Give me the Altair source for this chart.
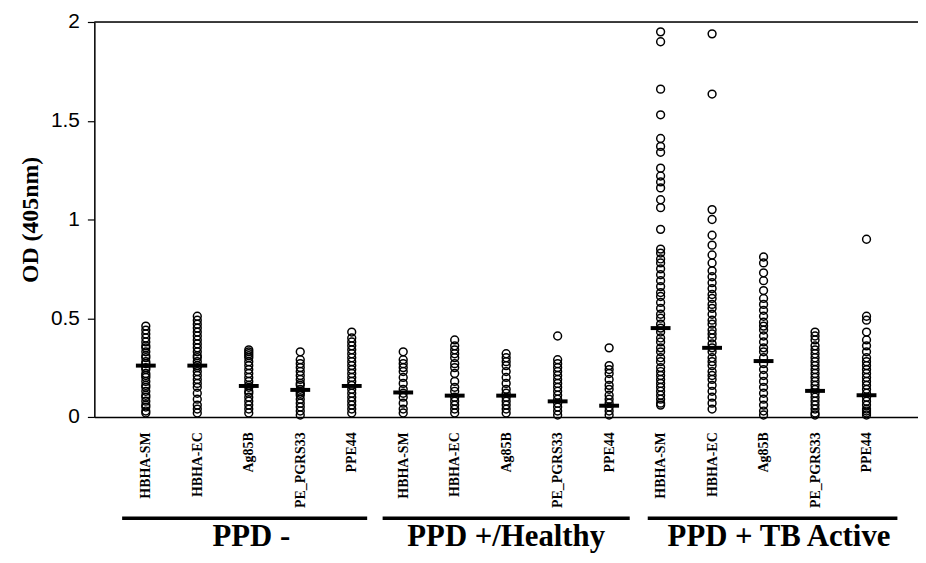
import altair as alt
import pandas as pd

antigens = ["HBHA-SM", "HBHA-EC", "Ag85B", "PE_PGRS33", "PPE44"]
groups = ["PPD -", "PPD +/Healthy", "PPD + TB Active"]

# PPD -
c1 = [0.02, 0.03, 0.05, 0.06, 0.08, 0.10, 0.11, 0.13, 0.15, 0.16, 0.18, 0.20, 0.21, 0.22,
      0.24, 0.25, 0.27, 0.28, 0.30, 0.31, 0.33, 0.35, 0.36, 0.38, 0.40, 0.42, 0.44, 0.46]
c2 = [0.02, 0.04, 0.06, 0.09, 0.12, 0.15, 0.17, 0.19, 0.21, 0.23, 0.25, 0.26, 0.28, 0.30,
      0.31, 0.33, 0.35, 0.37, 0.39, 0.41, 0.43, 0.45, 0.47, 0.49, 0.51]
c3 = [0.02, 0.04, 0.06, 0.08, 0.10, 0.12, 0.13, 0.15, 0.16, 0.18, 0.20, 0.22, 0.24, 0.26,
      0.28, 0.30, 0.31, 0.32, 0.33, 0.34]
c4 = [0.01, 0.03, 0.05, 0.07, 0.09, 0.11, 0.12, 0.13, 0.14, 0.16, 0.17, 0.19, 0.21, 0.23,
      0.25, 0.27, 0.29, 0.33]
c5 = [0.02, 0.04, 0.06, 0.08, 0.10, 0.12, 0.14, 0.16, 0.18, 0.20, 0.22, 0.24, 0.26, 0.28,
      0.30, 0.32, 0.34, 0.36, 0.38, 0.40, 0.43]
# PPD +/Healthy
c6 = [0.02, 0.04, 0.07, 0.10, 0.12, 0.14, 0.17, 0.20, 0.23, 0.25, 0.27, 0.29, 0.33]
c7 = [0.02, 0.04, 0.06, 0.08, 0.10, 0.13, 0.15, 0.18, 0.22, 0.25, 0.27, 0.30, 0.32, 0.34,
      0.36, 0.39]
c8 = [0.02, 0.04, 0.06, 0.08, 0.10, 0.12, 0.14, 0.17, 0.20, 0.23, 0.26, 0.28, 0.30, 0.32]
c9 = [0.01, 0.03, 0.05, 0.07, 0.09, 0.11, 0.13, 0.15, 0.17, 0.19, 0.21, 0.23, 0.25, 0.27,
      0.29, 0.41]
c10 = [0.01, 0.03, 0.05, 0.07, 0.09, 0.11, 0.14, 0.16, 0.19, 0.22, 0.24, 0.26, 0.35]
# PPD + TB Active
c11 = [1.95, 1.90, 1.66, 1.53, 1.41, 1.37, 1.34, 1.26, 1.22, 1.19, 1.16, 1.10, 1.06, 0.95,
       0.85, 0.83, 0.80, 0.78, 0.75, 0.72, 0.69, 0.66, 0.63, 0.61, 0.58, 0.55, 0.52, 0.50,
       0.47, 0.45, 0.43, 0.40, 0.38, 0.35, 0.33, 0.30, 0.28, 0.25, 0.23, 0.21, 0.19, 0.17,
       0.15, 0.13, 0.11, 0.09, 0.07, 0.06]
c12 = [1.94, 1.635, 1.05, 1.00, 0.92, 0.87, 0.82, 0.78, 0.74, 0.71, 0.68, 0.65, 0.62, 0.60,
       0.57, 0.55, 0.52, 0.49, 0.47, 0.44, 0.42, 0.40, 0.37, 0.35, 0.33, 0.30, 0.28, 0.26,
       0.23, 0.21, 0.19, 0.16, 0.13, 0.10, 0.07, 0.04]
c13 = [0.81, 0.78, 0.73, 0.69, 0.64, 0.60, 0.57, 0.54, 0.51, 0.48, 0.46, 0.44, 0.41, 0.38,
       0.35, 0.33, 0.30, 0.27, 0.24, 0.21, 0.18, 0.15, 0.12, 0.09, 0.06, 0.03, 0.01]
c14 = [0.43, 0.41, 0.39, 0.36, 0.34, 0.32, 0.30, 0.28, 0.26, 0.24, 0.22, 0.20, 0.18, 0.16,
       0.14, 0.12, 0.10, 0.08, 0.06, 0.04, 0.02, 0.01]
c15 = [0.90, 0.51, 0.49, 0.43, 0.39, 0.36, 0.33, 0.30, 0.28, 0.26, 0.24, 0.22, 0.20, 0.18,
       0.16, 0.14, 0.12, 0.10, 0.08, 0.06, 0.04, 0.03, 0.02, 0.01]

means = [0.26, 0.26, 0.157, 0.137, 0.157,
         0.124, 0.108, 0.108, 0.079, 0.057,
         0.45, 0.35, 0.283, 0.132, 0.11]

group_line_start = [0.54, 5.6, 10.75]
group_line_end = [5.3, 10.4, 15.6]
group_label_center = [3.05, 8.0, 13.3]

columns = [c1, c2, c3, c4, c5, c6, c7, c8, c9, c10, c11, c12, c13, c14, c15]
rows = []
for i, vals in enumerate(columns):
    for v in vals:
        rows.append({"pos": i + 1, "od": v})
pts = pd.DataFrame(rows)
mean_df = pd.DataFrame({"pos": list(range(1, 16)), "od": means})
grp_df = pd.DataFrame({"group": groups, "start": group_line_start,
                       "end": group_line_end, "center": group_label_center})

W, H = 830, 398
SERIF = "Liberation Serif"
SANS = "Liberation Sans"

names_js = "[" + ",".join("'%s'" % a for a in antigens) + "]"

xscale = alt.Scale(domain=[0, 16], nice=False, zero=False)
yscale = alt.Scale(domain=[0, 2], nice=False)

xaxis = alt.Axis(values=list(range(1, 16)), labelExpr=names_js + "[(datum.value - 1) % 5]",
                 labelAngle=270, labelAlign="right", labelBaseline="middle",
                 labelFont=SERIF, labelFontSize=14, labelFontWeight="bold", labelColor="black",
                 labelPadding=15, ticks=False, grid=False, domainColor="black",
                 domainWidth=1.5, title=None, labelOverlap=False, labelFlush=False)
yaxis = alt.Axis(values=[0, 0.5, 1, 1.5, 2], format="~g", labelFont=SANS, labelFontSize=21,
                 labelColor="black", labelPadding=8, tickSize=7, tickColor="black",
                 tickWidth=1.2, domainColor="black", domainWidth=1.5, grid=False,
                 title="OD (405nm)", titleFont=SERIF, titleFontSize=24, titleFontWeight="bold",
                 titleColor="black", titlePadding=8)

points = alt.Chart(pts).mark_point(shape="circle", size=62, filled=False, color="black",
                                   strokeWidth=1.5, opacity=1).encode(
    x=alt.X("pos:Q", scale=xscale, axis=xaxis),
    y=alt.Y("od:Q", scale=yscale, axis=yaxis),
)

ticks = alt.Chart(mean_df).mark_tick(color="black", size=20, thickness=4, opacity=1,
                                     orient="horizontal").encode(
    x=alt.X("pos:Q", scale=xscale),
    y=alt.Y("od:Q", scale=yscale),
)

top_line = alt.Chart(pd.DataFrame({"a": [0]})).mark_rule(color="black", strokeWidth=1.5).encode(
    x=alt.value(0), x2=alt.value(W), y=alt.value(0))

grp_lines = alt.Chart(grp_df).mark_rule(color="black", strokeWidth=3.5).encode(
    x=alt.X("start:Q", scale=xscale), x2="end:Q", y=alt.value(500))

grp_text = alt.Chart(grp_df).mark_text(font=SERIF, fontSize=31, fontWeight="bold",
                                       color="black", baseline="alphabetic",
                                       align="center").encode(
    x=alt.X("center:Q", scale=xscale), y=alt.value(528), text="group:N")

chart = alt.layer(points, ticks, top_line, grp_lines, grp_text).properties(
    width=W, height=H,
    padding={"left": 87, "top": 12, "right": 0, "bottom": 137},
    autosize="none",
).configure_view(stroke=None).configure(background="white")

chart.save("out.html", embed_options={"renderer": "svg", "actions": False})
